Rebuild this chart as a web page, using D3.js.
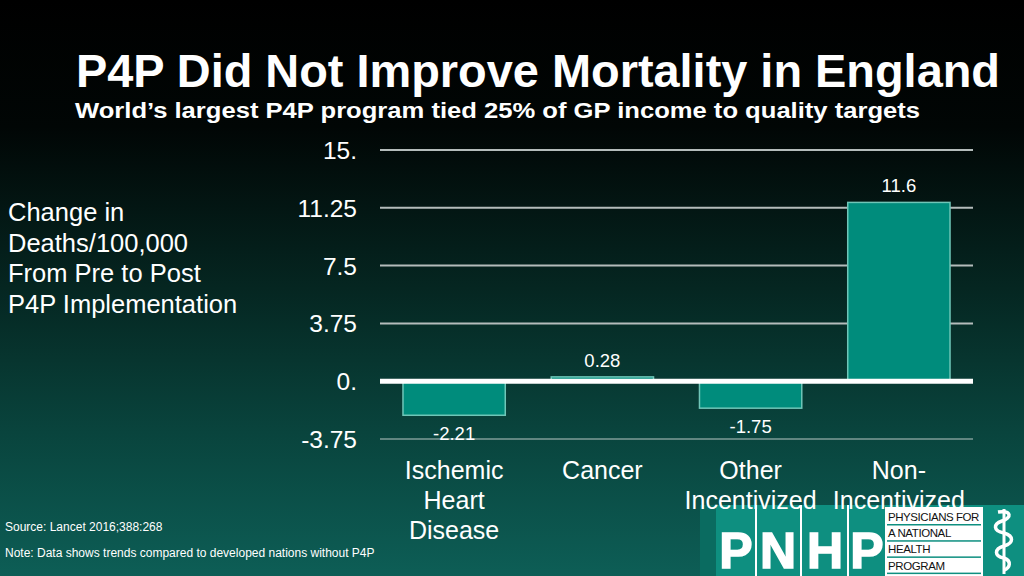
<!DOCTYPE html>
<html><head><meta charset="utf-8">
<script src="https://cdn.jsdelivr.net/npm/d3@7/dist/d3.min.js"></script>
<style>html,body{margin:0;padding:0;background:#000;}svg{display:block;}</style>
</head><body>
<script>
const categories = ["Ischemic Heart Disease", "Cancer", "Other Incentivized", "Non-Incentivized"];
const categoryLines = [["Ischemic","Heart","Disease"],["Cancer"],["Other","Incentivized"],["Non-","Incentivized"]];
const values = [-2.21, 0.28, -1.75, 11.6];
const valueLabels = ["-2.21", "0.28", "-1.75", "11.6"];
const ticks = [-3.75, 0, 3.75, 7.5, 11.25, 15];
const tickLabels = ["-3.75", "0.", "3.75", "7.5", "11.25", "15."];

const W = 1024, H = 576;
const font = "'Liberation Sans', Arial, Helvetica, sans-serif";
const svg = d3.select("body").append("svg").attr("width", W).attr("height", H);
const defs = svg.append("defs");
const g = defs.append("linearGradient").attr("id","bg").attr("x1",0).attr("y1",0).attr("x2",0).attr("y2",1);
[[0,"#000000"],[0.22,"#010605"],[0.5,"#052621"],[0.75,"#09443d"],[1,"#0d5e56"]].forEach(s=>g.append("stop").attr("offset",s[0]).attr("stop-color",s[1]));
svg.append("rect").attr("width",W).attr("height",H).attr("fill","url(#bg)");

// Title
svg.append("text").attr("x",76).attr("y",87).attr("fill","#fff").attr("font-family",font)
  .attr("font-weight","bold").attr("font-size",46.5).attr("textLength",924).attr("lengthAdjust","spacingAndGlyphs")
  .text("P4P Did Not Improve Mortality in England");
svg.append("text").attr("x",75).attr("y",118).attr("fill","#fff").attr("font-family",font)
  .attr("font-weight","bold").attr("font-size",22).attr("textLength",845).attr("lengthAdjust","spacingAndGlyphs")
  .text("World\u2019s largest P4P program tied 25% of GP income to quality targets");

// Scales
const x = d3.scaleBand().domain(categories).range([380, 973]).paddingInner(0.31).paddingOuter(0.155);
const y = d3.scaleLinear().domain([-3.75, 15]).range([439, 150]);

// Gridlines
const grid = svg.append("g");
grid.selectAll("line").data(ticks.filter(t=>t!==0)).join("line")
  .attr("x1",380).attr("x2",973).attr("y1",d=>y(d)).attr("y2",d=>y(d))
  .attr("stroke", d=> d<0 ? "#7f9c98" : "#b4bcbb").attr("stroke-width", d=> d<0 ? 1.5 : 2);

// Tick labels via axis
const axis = d3.axisLeft(y).tickValues(ticks).tickFormat((d,i)=>tickLabels[i]).tickSize(0).tickPadding(0);
const ax = svg.append("g").attr("transform","translate(357,0)").call(axis);
ax.select(".domain").remove();
ax.selectAll("text").attr("fill","#fff").attr("font-family",font).attr("font-size",24.5).attr("dy","0.35em");

// Bars
svg.append("g").selectAll("rect").data(values).join("rect")
  .attr("x",(d,i)=>x(categories[i])).attr("width",x.bandwidth())
  .attr("y",d=>y(Math.max(0,d))).attr("height",d=>Math.abs(y(d)-y(0)))
  .attr("fill","#008c7c").attr("stroke","#6fc6b8").attr("stroke-width",1.5);

// Zero line
svg.append("line").attr("x1",380).attr("x2",973).attr("y1",y(0)).attr("y2",y(0))
  .attr("stroke","#fff").attr("stroke-width",5);

// Value labels
svg.append("g").selectAll("text").data(values).join("text")
  .attr("x",(d,i)=>x(categories[i])+x.bandwidth()/2)
  .attr("y",d=> d>=0 ? y(d)-10 : y(d)+25)
  .attr("text-anchor","middle").attr("fill","#fff").attr("font-family",font).attr("font-size",18.5)
  .text((d,i)=>valueLabels[i]);

// Left axis title
const lt = svg.append("text").attr("x",8).attr("y",221).attr("fill","#fff").attr("font-family",font).attr("font-size",25.5);
["Change in","Deaths/100,000","From Pre to Post","P4P Implementation"].forEach((l,j)=>
  lt.append("tspan").attr("x",8).attr("dy", j===0?0:30.5).text(l));

// Source / note
svg.append("text").attr("x",5).attr("y",531).attr("fill","#fff").attr("font-family",font).attr("font-size",12).text("Source: Lancet 2016;388:268");
svg.append("text").attr("x",5).attr("y",557).attr("fill","#fff").attr("font-family",font).attr("font-size",12).text("Note: Data shows trends compared to developed nations without P4P");

// Logo
const logo = svg.append("g");
logo.append("rect").attr("x",700).attr("y",505).attr("width",16).attr("height",71).attr("fill","#0a6b60");
logo.append("rect").attr("x",716).attr("y",505).attr("width",308).attr("height",71).attr("fill","#0e8f80");
[755,800,847].forEach(xx=>logo.append("rect").attr("x",xx).attr("y",505).attr("width",2).attr("height",71).attr("fill","#fff"));
["P","N","H","P"].forEach((c,i)=>logo.append("text").attr("x",[736,778,825,867][i]).attr("y",568)
  .attr("text-anchor","middle").attr("fill","#fff").attr("font-family",font).attr("font-weight","bold").attr("font-size",50)
  .attr("stroke","#fff").attr("stroke-width",1.5).text(c));
logo.append("rect").attr("x",885).attr("y",507).attr("width",98).attr("height",69).attr("fill","#fff");
const ptxt = ["PHYSICIANS FOR","A NATIONAL","HEALTH","PROGRAM"];
ptxt.forEach((t,i)=>{
  logo.append("text").attr("x",888).attr("y",521+i*16.2).attr("fill","#111").attr("font-family",font)
    .attr("font-size",11.5).attr("letter-spacing",-0.4).attr("textLength", i===0?91:null).text(t);
  logo.append("rect").attr("x",887).attr("y",524+i*16.2).attr("width",94).attr("height",1.5).attr("fill","#0e8f80");
});
// Rod of Asclepius
logo.append("line").attr("x1",1004).attr("x2",1004).attr("y1",509).attr("y2",574).attr("stroke","#fff").attr("stroke-width",3);
logo.append("path").attr("d","M998,512 C1012,510 1012,518 1002,521 C993,524 993,531 1004,533 C1014,536 1014,543 1004,546 C994,549 994,556 1004,558 C1012,561 1010,568 1004,570")
  .attr("fill","none").attr("stroke","#fff").attr("stroke-width",3.5);

// Category labels (drawn over logo)
const cl = svg.append("g").selectAll("text").data(categoryLines).join("text")
  .attr("x",(d,i)=>x(categories[i])+x.bandwidth()/2).attr("y",479)
  .attr("text-anchor","middle").attr("fill","#fff").attr("font-family",font).attr("font-size",25);
cl.each(function(lines){
  const t = d3.select(this), cx = t.attr("x");
  lines.forEach((l,j)=>t.append("tspan").attr("x",cx).attr("dy", j===0?0:30).text(l));
});
</script>
</body></html>
